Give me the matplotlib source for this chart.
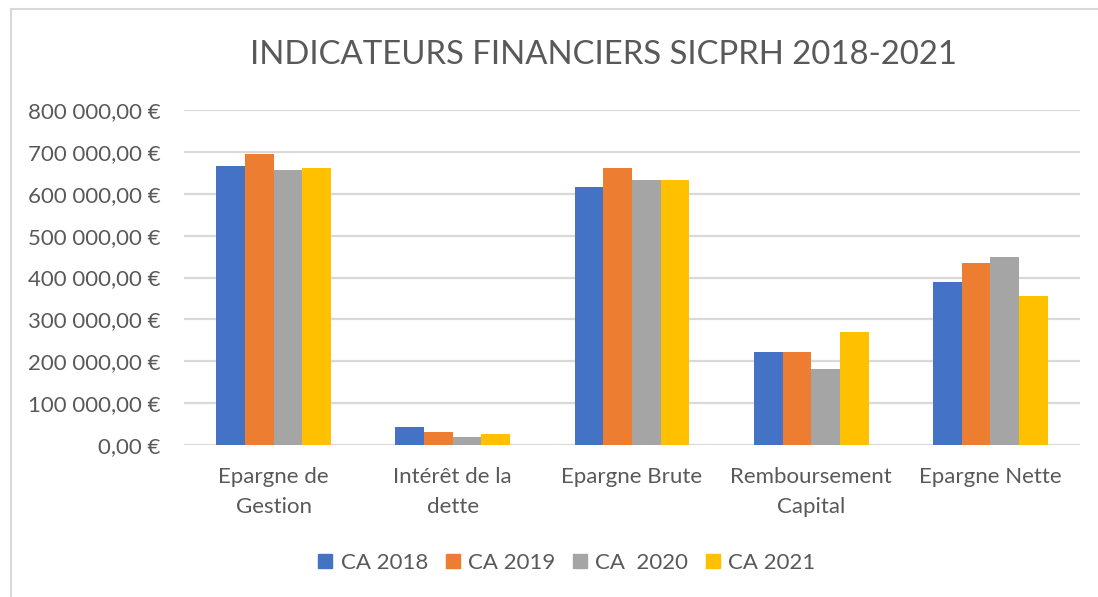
import matplotlib
matplotlib.use('Agg')
import matplotlib.pyplot as plt
import numpy as np
from matplotlib.ticker import FuncFormatter, MultipleLocator
from matplotlib.lines import Line2D

# Data
categories = ["Epargne de\nGestion", "Intérêt de la\ndette", "Epargne Brute",
              "Remboursement\nCapital", "Epargne Nette"]
series_names = ["CA 2018", "CA 2019", "CA  2020", "CA 2021"]
ca_2018 = [666000, 44000, 615000, 223000, 389000]
ca_2019 = [696000, 32000, 662000, 223000, 434000]
ca_2020 = [656000, 20000, 634000, 181000, 449000]
ca_2021 = [662000, 26000, 634000, 269000, 357000]
colors = ["#4472C4", "#ED7D31", "#A5A5A5", "#FFC000"]

title = "INDICATEURS FINANCIERS SICPRH 2018-2021"
text_color = "#595959"
grid_color = "#D9D9D9"

plt.rcParams['font.family'] = ['Lato', 'DejaVu Sans']


def euro_fmt(v, pos):
    s = f"{v:,.2f}".replace(",", " ").replace(".", ",")
    return s + " €"


fig = plt.figure(figsize=(10.98, 5.97), dpi=100)
W, H = 1098, 597
ax = fig.add_axes([184 / W, 1 - 445 / H, (1080 - 184) / W, (445 - 110) / H])

x = np.arange(len(categories))
width = 0.16
all_series = [ca_2018, ca_2019, ca_2020, ca_2021]
for i, (vals, col, name) in enumerate(zip(all_series, colors, series_names)):
    ax.bar(x + (i - 1.5) * width, vals, width, color=col, label=name, zorder=3)

ax.set_xlim(-0.5, len(categories) - 0.5)
ax.set_ylim(0, 800000)
ax.yaxis.set_major_locator(MultipleLocator(100000))
ax.yaxis.set_major_formatter(FuncFormatter(euro_fmt))
ax.grid(axis='y', color=grid_color, linewidth=1.6, zorder=0)
ax.set_axisbelow(True)
for sp in ax.spines.values():
    sp.set_visible(False)
ax.tick_params(axis='both', length=0, colors=text_color, labelsize=16)
ax.tick_params(axis='y', pad=17)
ax.tick_params(axis='x', pad=16)
ax.set_xticks(x)
ax.set_xticklabels(categories, linespacing=1.6)

fig.text(604 / W, 1 - 55 / H, title, ha='center', va='center',
         fontsize=23.7, color=text_color)

handles = [Line2D([], [], marker='s', linestyle='none', markersize=10,
                  markerfacecolor=c, markeredgecolor=c) for c in colors]
fig.legend(handles, series_names, loc='center', bbox_to_anchor=(566 / W, 1 - 563 / H),
           ncol=4, frameon=False, fontsize=16, labelcolor=text_color,
           handletextpad=0.3, columnspacing=0.7, handlelength=0.8)

# light chart border (left and top visible in the reference)
fig.add_artist(Line2D([11 / W, 11 / W], [0, 1 - 9 / H], color=grid_color, linewidth=1.5))
fig.add_artist(Line2D([11 / W, 1], [1 - 9 / H, 1 - 9 / H], color=grid_color, linewidth=1.5))

fig.savefig("out.png", dpi=100)
